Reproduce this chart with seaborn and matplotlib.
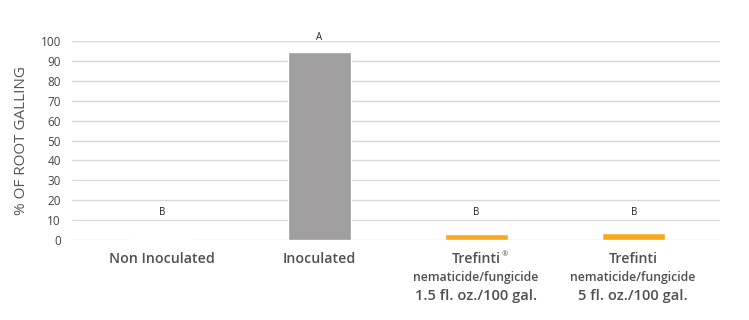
import matplotlib
matplotlib.use("Agg")
import matplotlib.pyplot as plt
import seaborn as sns
import pandas as pd

categories = ["Non Inoculated", "Inoculated", "Trefinti 1.5", "Trefinti 5"]
values = [0.3, 94.5, 3.0, 3.6]
letters = ["B", "A", "B", "B"]
letter_y = [14, 102, 14, 14]
label_line1 = ["Non Inoculated", "Inoculated", "Trefinti", "Trefinti"]
label_sup = ["", "", "\u00ae", ""]
label_line2 = ["", "", "nematicide/fungicide", "nematicide/fungicide"]
label_line3 = ["", "", "1.5 fl. oz./100 gal.", "5 fl. oz./100 gal."]
colors = ["#a09e9e", "#a09e9e", "#f9a91b", "#f9a91b"]
yticks = [0, 10, 20, 30, 40, 50, 60, 70, 80, 90, 100]

sns.set_style("white")
plt.rcParams["font.family"] = ["Open Sans", "DejaVu Sans"]

df = pd.DataFrame({"cat": categories, "val": values})
fig = plt.figure(figsize=(7.49, 3.2), dpi=100)
ax = fig.add_axes([72/749, 1-240/320, 648/749, 199/320])
ax.set_axisbelow(True)
sns.barplot(data=df, x="cat", y="val", hue="cat", palette=colors, width=0.4,
            legend=False, ax=ax, saturation=1)
ax.set_ylim(0, 100)
ax.set_xlim(-0.573, 3.548)
ax.set_yticks(yticks)
ax.set_yticklabels([str(t) for t in yticks], fontsize=8.5, color="#444444")
ax.tick_params(axis="y", length=0, pad=8)
ax.set_xticks([])
ax.set_xlabel("")
ax.set_ylabel("% OF ROOT GALLING", fontsize=11, color="#555555", labelpad=8)
ax.grid(axis="y", color="#d9d9d9", linewidth=1)
for s in ax.spines.values():
    s.set_visible(False)

fig.canvas.draw()
for i in range(len(categories)):
    cx = (72 + 90 + i*157)/749
    ax.text(i, letter_y[i], letters[i], ha="center", va="center", fontsize=7,
            color="#222222", clip_on=False)
    t = fig.text(cx, 1-259/320, label_line1[i], ha="center", va="center",
                 fontsize=10.2, fontweight="semibold", color="#505050")
    if label_sup[i]:
        bb = t.get_window_extent(renderer=fig.canvas.get_renderer())
        fig.text((bb.x1 + 1)/749, 1-255/320, label_sup[i], ha="left", va="center",
                 fontsize=5.5, color="#505050")
    if label_line2[i]:
        fig.text(cx, 1-278/320, label_line2[i], ha="center", va="center",
                 fontsize=8.8, fontweight="semibold", color="#505050")
        fig.text(cx, 1-296/320, label_line3[i], ha="center", va="center",
                 fontsize=10.6, fontweight="semibold", color="#505050")

fig.savefig("out.png", dpi=100)
